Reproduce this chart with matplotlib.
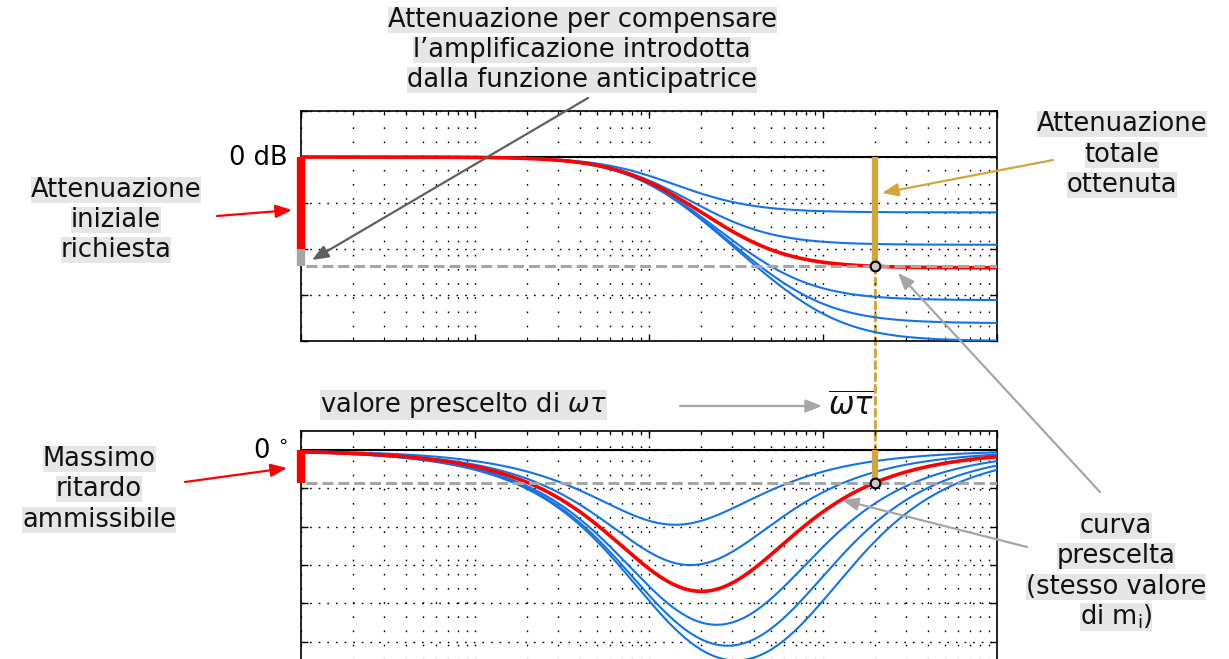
import numpy as np
import matplotlib.pyplot as plt
from matplotlib.patches import ConnectionPatch, FancyArrowPatch
from matplotlib.ticker import LogLocator, NullFormatter, MultipleLocator

plt.rcParams['font.family'] = ['DejaVu Sans']
plt.rcParams['mathtext.fontset'] = 'dejavusans'

# valori
m_values = [2, 3, 4, 6, 8, 10]   # rapporto zero/polo delle curve
m_chosen = 4                     # curva prescelta (rossa)
wt_bar = 20.0                    # valore prescelto di omega*tau
att_initial_db = -10.0           # attenuazione iniziale richiesta
wt_range = (1e-2, 1e2)
mag_lim = (-20, 5)
phase_lim = (-60, 5)

BLUE = '#1673e6'
RED = '#ff0000'
GOLD = '#d4a53c'
GRAY = '#a6a6a6'
DARKGRAY = '#606060'
BOXC = '#e6e6e6'
FS = 18.5

W, H = 1229, 659


def fx(x, y):
    # pixel dell'immagine -> frazione della figura
    return (x / W, 1 - y / H)


def lag(wt, m):
    g = (1 + 1j * wt / m) / (1 + 1j * wt)
    return 20 * np.log10(np.abs(g)), np.degrees(np.angle(g))


def style(ax, ylim, ystep):
    ax.set_xscale('log')
    ax.set_xlim(*wt_range)
    ax.set_ylim(*ylim)
    ax.patch.set_facecolor('none')
    ax.xaxis.set_major_locator(LogLocator(base=10, numticks=10))
    ax.xaxis.set_minor_locator(LogLocator(base=10, subs=np.arange(2, 10), numticks=100))
    ax.yaxis.set_major_locator(MultipleLocator(ystep))
    ax.xaxis.set_major_formatter(NullFormatter())
    ax.xaxis.set_minor_formatter(NullFormatter())
    ax.yaxis.set_major_formatter(NullFormatter())
    ax.tick_params(which='both', direction='in', top=True, right=True)
    ax.tick_params(which='major', length=5, width=1)
    ax.tick_params(which='minor', length=3, width=0.8)
    ax.grid(True, which='both', axis='x', color='k', lw=1.0, ls=(0, (1.2, 9)))
    ax.grid(True, which='major', axis='y', color='k', lw=1.0, ls=(0, (1.2, 5)))
    for s in ax.spines.values():
        s.set_linewidth(1.2)
    ax.axhline(0, color='k', lw=1.5, zorder=2)


def label(lines, x, ys, size=FS):
    for txt, y in zip(lines, ys):
        fig.text(*fx(x, y), txt, ha='center', va='center', fontsize=size,
                 color='#111111',
                 bbox=dict(boxstyle='square,pad=0.0', fc=BOXC, ec='none'))


def arrow(xy, xytext, color, lw=1.6):
    fig.add_artist(FancyArrowPatch(
        fx(*xytext), fx(*xy), transform=fig.transFigure,
        arrowstyle='-|>,head_length=0.7,head_width=0.28', mutation_scale=14,
        color=color, lw=lw, shrinkA=0, shrinkB=0))


wt = np.logspace(-2, 2, 800)
mag_bar, ph_bar = lag(wt_bar, m_chosen)

fig = plt.figure(figsize=(W / 100, H / 100), dpi=100)
ax1 = fig.add_axes([301 / W, 1 - 341 / H, 696 / W, 230 / H])
ax2 = fig.add_axes([301 / W, 1 - 680 / H, 696 / W, 249 / H])
style(ax1, mag_lim, 5)
style(ax2, phase_lim, 10)

for m in m_values:
    mag, ph = lag(wt, m)
    if m == m_chosen:
        ax1.plot(wt, mag, color=RED, lw=2.6, zorder=5)
        ax2.plot(wt, ph, color=RED, lw=2.6, zorder=5)
    else:
        ax1.plot(wt, mag, color=BLUE, lw=1.5, zorder=4)
        ax2.plot(wt, ph, color=BLUE, lw=1.5, zorder=4)

# diagramma dei moduli
ax1.plot([wt_range[0]] * 2, [0, att_initial_db], color=RED, lw=6,
         solid_capstyle='butt', clip_on=False, zorder=6)
ax1.plot([wt_range[0]] * 2, [att_initial_db, mag_bar], color=GRAY, lw=6,
         solid_capstyle='butt', clip_on=False, zorder=6)
ax1.plot([wt_range[0] * 1.07, wt_range[1]], [mag_bar] * 2, color=GRAY, lw=2.2,
         ls=(0, (3.6, 1.6)), zorder=6)
ax1.plot([wt_bar] * 2, [0, mag_bar], color=GOLD, lw=4.5,
         solid_capstyle='butt', zorder=6)
ax1.plot(wt_bar, mag_bar, 'o', ms=7, mfc='#c8c8c8', mec='k', mew=1.5, zorder=10)

# diagramma delle fasi
ax2.plot([wt_range[0]] * 2, [0, ph_bar], color=RED, lw=6,
         solid_capstyle='butt', clip_on=False, zorder=6)
ax2.plot([wt_range[0] * 1.07, wt_range[1]], [ph_bar] * 2, color=GRAY, lw=2.2,
         ls=(0, (3.6, 1.6)), zorder=6)
ax2.plot([wt_bar] * 2, [0, ph_bar], color=GOLD, lw=4.5,
         solid_capstyle='butt', zorder=6)
ax2.plot(wt_bar, ph_bar, 'o', ms=7, mfc='#c8c8c8', mec='k', mew=1.5, zorder=10)

con = ConnectionPatch(xyA=(wt_bar, mag_bar), coordsA=ax1.transData,
                      xyB=(wt_bar, 0), coordsB=ax2.transData,
                      color=GOLD, lw=2.2, ls=(0, (2.3, 1.6)), zorder=-1)
fig.add_artist(con)

# testi
fig.text(*fx(288, 158), '0 dB', ha='right', va='center', fontsize=FS)
fig.text(*fx(288, 451), r'0 $^{\circ}$', ha='right', va='center', fontsize=FS)

label(['Attenuazione per compensare', 'l\u2019amplificazione introdotta',
       'dalla funzione anticipatrice'], 582, [20, 50, 80])
label(['Attenuazione', 'iniziale', 'richiesta'], 116, [190, 220, 250])
label(['Attenuazione', 'totale', 'ottenuta'], 1122, [124, 155, 185])
label(['Massimo', 'ritardo', 'ammissibile'], 99, [459, 489, 520])
label(['curva', 'prescelta', '(stesso valore', r'di m$_{\mathregular{i}}$)'],
      1116, [526, 556, 587, 617])

fig.text(*fx(320, 405), r'valore prescelto di $\omega\tau$', ha='left',
         va='center', fontsize=FS, color='#111111',
         bbox=dict(boxstyle='square,pad=0.0', fc=BOXC, ec='none'))
fig.text(*fx(851, 407), r'$\overline{\omega\tau}$', ha='center', va='center',
         fontsize=22, color='#111111')

# frecce
arrow((292, 210), (217, 216), RED)
arrow((287, 468), (185, 482), RED)
arrow((312, 260), (588, 98), DARKGRAY)
arrow((882, 193), (1053, 160), GOLD)
arrow((898, 273), (1100, 492), GRAY)
arrow((842, 500), (1027, 547), GRAY)
arrow((822, 406), (680, 406), GRAY)

fig.savefig('out.png', dpi=100)
